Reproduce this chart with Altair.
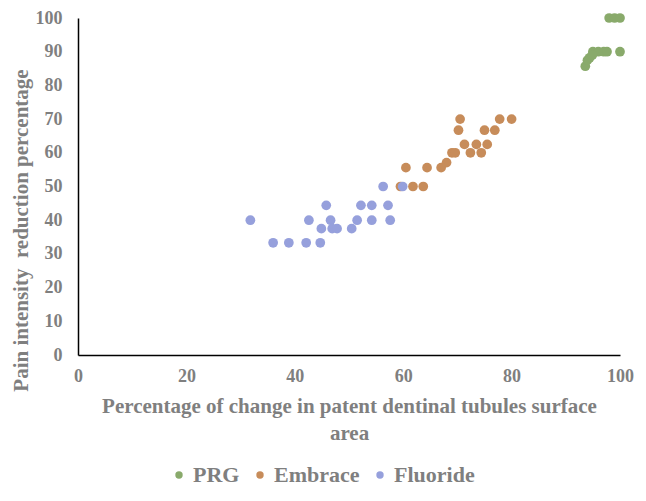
import altair as alt
import pandas as pd

series_names = ["PRG", "Embrace", "Fluoride"]
series_colors = ["#89AA6B", "#C78C5A", "#96A0DC"]

prg_x = [98, 99, 100, 95, 96, 97, 97.6, 100, 93.6, 94.0, 94.4, 94.9]
prg_y = [100, 100, 100, 90, 90, 90, 90, 90, 85.7, 87.5, 88.2, 89.0]

embrace_x = [70.5, 77.8, 80.0, 70.2, 75.0, 76.9, 71.3, 73.5, 75.5, 69.0, 69.6, 72.4, 74.4,
             68.0, 67.0, 60.5, 64.4, 59.5, 61.8, 63.7]
embrace_y = [70, 70, 70, 66.7, 66.7, 66.7, 62.5, 62.5, 62.5, 60, 60, 60, 60,
             57.1, 55.6, 55.6, 55.6, 50, 50, 50]

fluoride_x = [31.8, 36.0, 38.9, 42.1, 44.7, 42.6, 45.8, 46.6, 44.9, 46.9, 47.8, 50.5,
              51.5, 52.2, 54.2, 54.2, 56.3, 57.2, 57.6, 59.9]
fluoride_y = [40, 33.3, 33.3, 33.3, 33.3, 40, 44.4, 40, 37.5, 37.5, 37.5, 37.5,
              40, 44.4, 44.4, 40, 50, 44.4, 40, 50]

tick_values = [0, 20, 40, 60, 80, 100]
y_tick_values = [0, 10, 20, 30, 40, 50, 60, 70, 80, 90, 100]

x_title = ["Percentage of change in patent dentinal tubules surface", "area"]
y_title = "Pain intensity\u00a0 reduction percentage"

rows = []
for name, xs, ys in [("PRG", prg_x, prg_y), ("Embrace", embrace_x, embrace_y),
                     ("Fluoride", fluoride_x, fluoride_y)]:
    for xv, yv in zip(xs, ys):
        rows.append({"x": xv, "y": yv, "series": name})
df = pd.DataFrame(rows)

FONT = "Liberation Serif"
GRAY = "#7f7f7f"

chart = alt.Chart(df).mark_point(filled=True, size=95, opacity=1).encode(
    x=alt.X("x:Q", scale=alt.Scale(domain=[0, 100], nice=False, zero=True),
            axis=alt.Axis(values=tick_values, title=x_title, grid=False, ticks=False, tickSize=0,
                          domainColor="black", domainWidth=1.5, labelFlush=False,
                          labelFont=FONT, labelFontSize=18, labelFontWeight="bold", labelColor=GRAY,
                          labelPadding=12,
                          titleFont=FONT, titleFontSize=21, titleFontWeight="bold", titleColor=GRAY,
                          titleLineHeight=27, titleBaseline="top", titleY=40)),
    y=alt.Y("y:Q", scale=alt.Scale(domain=[0, 100], nice=False),
            axis=alt.Axis(values=y_tick_values, title=y_title, grid=False, ticks=False, tickSize=0,
                          domainColor="black", domainWidth=1.5, labelFlush=False,
                          labelFont=FONT, labelFontSize=18, labelFontWeight="bold", labelColor=GRAY,
                          labelPadding=16,
                          titleFont=FONT, titleFontSize=21, titleFontWeight="bold", titleColor=GRAY,
                          titleX=-57, titleY=212, titleAngle=270, titleBaseline="middle",
                          titleAlign="center")),
    color=alt.Color("series:N", scale=alt.Scale(domain=series_names, range=series_colors),
                    legend=alt.Legend(title=None, orient="none", legendX=90, legendY=446,
                                      direction="horizontal", symbolType="circle", symbolSize=55,
                                      symbolStrokeWidth=0, labelFont=FONT, labelFontSize=22,
                                      labelFontWeight="bold", labelColor=GRAY, labelOffset=3,
                                      labelBaseline="middle", columnPadding=9, padding=0)),
).properties(
    width=542, height=337,
    autosize=alt.AutoSizeParams(type="none"),
    padding={"left": 70, "top": 10, "right": 18, "bottom": 133},
    background="white",
).configure_view(stroke=None).configure_legend(
    labelFont=FONT, labelFontWeight="bold", labelFontSize=22, labelColor=GRAY
)

chart.save("out.html", embed_options={"renderer": "svg", "actions": False})
